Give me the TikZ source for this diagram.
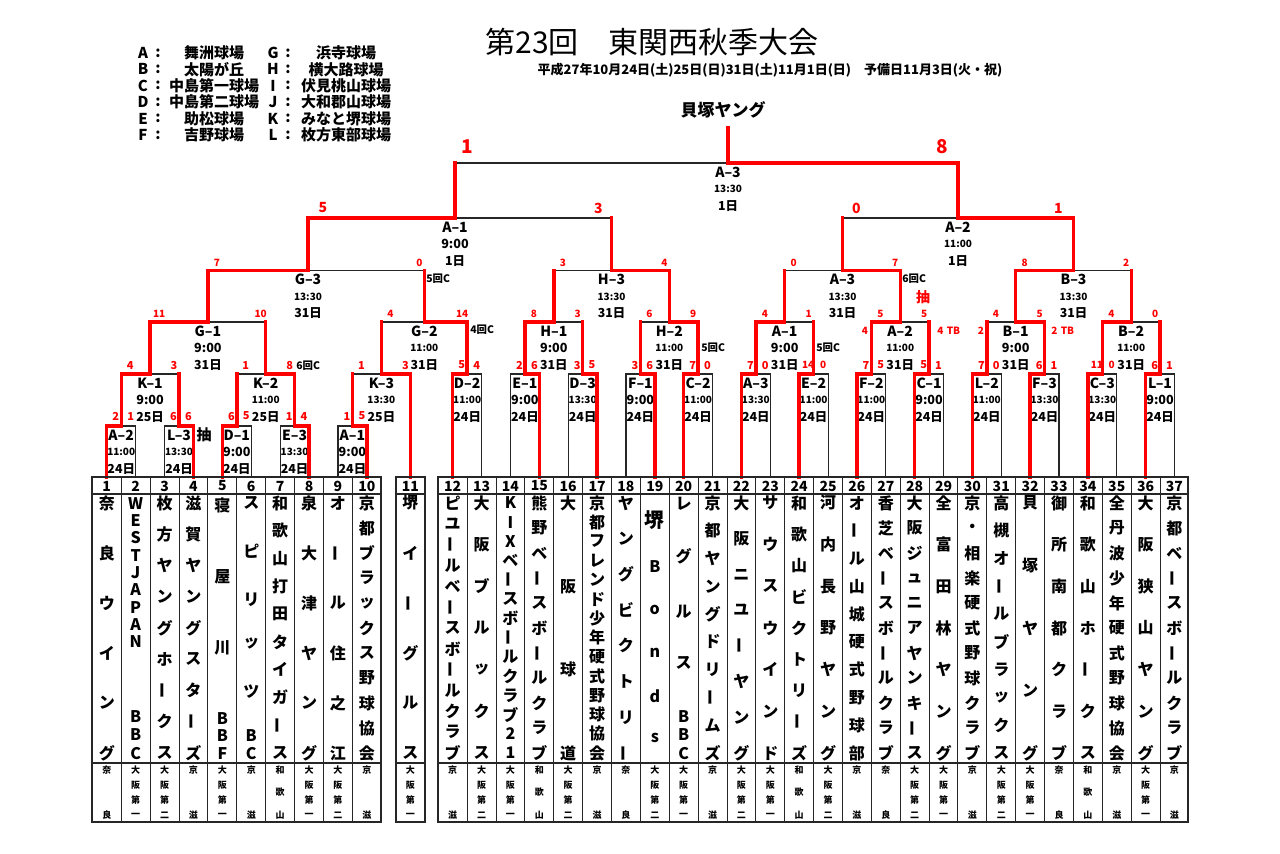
\documentclass[tikz,border=0pt]{standalone}
\usepackage{fontspec}
\setmainfont{Noto Sans CJK JP}
\usetikzlibrary{calc}
\def\LM{ー}
\newcommand\fs[1]{\fontsize{#1}{#1}\selectfont}
\tikzset{
  blk/.style={draw=black!85, line width=0.55pt},
  rd/.style={draw=red, line width=1.7pt, line cap=rect},
  tbl/.style={draw=black!85, line width=0.5pt},
  tblo/.style={draw=black!85, line width=1pt},
  tn/.style={font=\bfseries\fs{8}, inner sep=0pt},
  pf/.style={font=\bfseries\fs{4.5}, inner sep=0pt},
  num/.style={font=\bfseries\fs{7}, inner sep=0pt},
  mn/.style={font=\bfseries\fs{7}, inner sep=0pt},
  mtb/.style={font=\bfseries\fs{6.3}, inner sep=0pt},
  mts/.style={font=\bfseries\fs{5}, inner sep=0pt},
  md/.style={font=\bfseries\fs{6.2}, inner sep=0pt},
  sc/.style={text=red, font=\bfseries\fs{5.5}, inner sep=0pt},
  scs/.style={text=red, font=\bfseries\fs{5}, inner sep=0pt},
  scb/.style={text=red, font=\bfseries\fs{7}, inner sep=0pt},
  scf/.style={text=red, font=\bfseries\fs{9.5}, inner sep=0pt},
  note/.style={font=\bfseries\fs{5.2}, inner sep=0pt, anchor=west},
  leg/.style={font=\bfseries\fs{7.5}, inner sep=0pt},
}
% vertical team name, evenly distributed
\newcommand\vname[3]{\foreach \c [count=\k] in {#3} {%
  \pgfmathsetmacro\yy{26+(\k-1)*250/(#2-1)}%
  \ifx\c\LM
    \node[tn,rotate=90] (c#1-\k) at ($(t#1)+(0,\yy)$) {ー};
  \else
    \node[tn] (c#1-\k) at ($(t#1)+(0,\yy)$) {\c};
  \fi}}
% single char at absolute y
\newcommand\vat[4]{\node[tn,#4] (c#1-#2) at ($(t#1)+(0,#3-477)$) {#2};}
\newcommand\vch[4]{\node[tn] (c#1-#2) at ($(t#1)+(0,#3-477)$) {#4};}
\newcommand\pref[3]{\foreach \c [count=\k] in {#3} {%
  \pgfmathsetmacro\yy{293+(\k-1)*45/(#2-1)}%
  \node[pf] (p#1-\k) at ($(t#1)+(0,\yy)$) {\c};}}
\newcommand\PA[1]{\pref{#1}{4}{大,阪,第,一}}
\newcommand\PB[1]{\pref{#1}{4}{大,阪,第,二}}
\newcommand\PK[1]{\pref{#1}{2}{京,滋}}
\newcommand\PN[1]{\pref{#1}{2}{奈,良}}
\newcommand\PW[1]{\pref{#1}{3}{和,歌,山}}
% match: id, left, right, name, timestyle, time, day
\newcommand\mt[7]{%
  \draw[blk] (#2) |- (#1) -| (#3);
  \node[mn] (#1n) at ($(#1)+(0,9)$) {#4};
  \node[#5] (#1t) at ($(#1)+(0,26)$) {#6};
  \node[md] (#1d) at ($(#1)+(0,43)$) {#7};}
% scores: id, left, right, ls, rs, style, dy
\newcommand\sco[7]{%
  \node[#6] (#1l) at ($(#2 |- #1)+(9,#7)$) {#4};
  \node[#6] (#1r) at ($(#3 |- #1)+(-5,#7)$) {#5};}
\newcommand\win[2]{\draw[rd] (#2) |- (#1);}
\newcommand\reach[2]{\draw[rd] (#2) -- (#2 |- #1);}
\begin{document}
\begin{tikzpicture}[x=0.5pt,y=-0.5pt]
\useasboundingbox[fill=white] (0,0) rectangle (1280,853);

% ---------- header ----------
\node[font=\fs{15}, inner sep=0pt] (title) at (652,42) {第23回　東関西秋季大会};
\node[font=\bfseries\fs{6.5}, inner sep=0pt] (sub) at (770,70) {平成27年10月24日(土)25日(日)31日(土)11月1日(日)　予備日11月3日(火・祝)};
\node[font=\bfseries\fs{8.5}, inner sep=0pt] (champ) at (723,110) {貝塚ヤング};
\coordinate (ctop) at (728,128);

% ---------- legend ----------
\foreach \L/\N/\R/\M [count=\k] in {A/舞洲球場/G/浜寺球場, B/太陽が丘/H/横大路球場, C/中島第一球場/I/伏見桃山球場, D/中島第二球場/J/大和郡山球場, E/助松球場/K/みなと堺球場, F/吉野球場/L/枚方東部球場}{
  \pgfmathsetmacro\ly{53+(\k-1)*16.4}
  \node[leg] (lgl\k) at (143,\ly) {\L};
  \node[leg] (lgc\k) at (158,\ly) {:};
  \node[leg] (lgn\k) at (214,\ly) {\N};
  \node[leg] (lgr\k) at (273,\ly) {\R};
  \node[leg] (lgd\k) at (288,\ly) {:};
  \node[leg] (lgm\k) at (346,\ly) {\M};
}

% ---------- team coordinates ----------
\foreach \i in {1,...,10} {\coordinate (t\i) at ({92.3+28.9*(\i-0.5)},477);}
\coordinate (t11) at (410.4,477);
\foreach \i in {12,...,37} {\coordinate (t\i) at ({438.3+28.87*(\i-11.5)},477);}

% ---------- match coordinates ----------
\coordinate (m1) at (121.2,426);
\coordinate (m2) at (179.0,426);
\coordinate (m3) at (236.8,426);
\coordinate (m4) at (294.6,426);
\coordinate (m5) at (352.4,426);
\coordinate (k1) at (150.1,374);
\coordinate (k2) at (265.7,374);
\coordinate (k3) at (381.4,374);
\coordinate (r12) at (467.17,374);
\coordinate (r14) at (524.91,374);
\coordinate (r16) at (582.65,374);
\coordinate (r18) at (640.39,374);
\coordinate (r20) at (698.13,374);
\coordinate (r22) at (755.87,374);
\coordinate (r24) at (813.61,374);
\coordinate (r26) at (871.35,374);
\coordinate (r28) at (929.09,374);
\coordinate (r30) at (986.83,374);
\coordinate (r32) at (1044.57,374);
\coordinate (r34) at (1102.31,374);
\coordinate (r36) at (1160.05,374);
\coordinate (g1) at (207.9,322);
\coordinate (g2) at (424.3,322);
\coordinate (h1) at (553.8,322);
\coordinate (h2) at (669.3,322);
\coordinate (a1) at (784.7,322);
\coordinate (a2) at (900.2,322);
\coordinate (b1) at (1015.7,322);
\coordinate (b2) at (1131.2,322);
\coordinate (g3) at (308,270.5);
\coordinate (h3) at (611.5,270.5);
\coordinate (a3) at (842.5,270.5);
\coordinate (b3) at (1073.5,270.5);
\coordinate (s1) at (455,218);
\coordinate (s2) at (958,218);
\coordinate (f) at (728,163);

% ---------- black bracket + labels ----------
\mt{m1}{t1}{t2}{A–2}{mts}{11:00}{24日}
\mt{m2}{t3}{t4}{L–3}{mts}{13:30}{24日}
\mt{m3}{t5}{t6}{D–1}{mtb}{9:00}{24日}
\mt{m4}{t7}{t8}{E–3}{mts}{13:30}{24日}
\mt{m5}{t9}{t10}{A–1}{mtb}{9:00}{24日}
\mt{k1}{m1}{m2}{K–1}{mtb}{9:00}{25日}
\mt{k2}{m3}{m4}{K–2}{mts}{11:00}{25日}
\mt{k3}{m5}{t11}{K–3}{mts}{13:30}{25日}
\mt{r12}{t12}{t13}{D–2}{mts}{11:00}{24日}
\mt{r14}{t14}{t15}{E–1}{mtb}{9:00}{24日}
\mt{r16}{t16}{t17}{D–3}{mts}{13:30}{24日}
\mt{r18}{t18}{t19}{F–1}{mtb}{9:00}{24日}
\mt{r20}{t20}{t21}{C–2}{mts}{11:00}{24日}
\mt{r22}{t22}{t23}{A–3}{mts}{13:30}{24日}
\mt{r24}{t24}{t25}{E–2}{mts}{11:00}{24日}
\mt{r26}{t26}{t27}{F–2}{mts}{11:00}{24日}
\mt{r28}{t28}{t29}{C–1}{mtb}{9:00}{24日}
\mt{r30}{t30}{t31}{L–2}{mts}{11:00}{24日}
\mt{r32}{t32}{t33}{F–3}{mts}{13:30}{24日}
\mt{r34}{t34}{t35}{C–3}{mts}{13:30}{24日}
\mt{r36}{t36}{t37}{L–1}{mtb}{9:00}{24日}
\mt{g1}{k1}{k2}{G–1}{mtb}{9:00}{31日}
\mt{g2}{k3}{r12}{G–2}{mts}{11:00}{31日}
\mt{h1}{r14}{r16}{H–1}{mtb}{9:00}{31日}
\mt{h2}{r18}{r20}{H–2}{mts}{11:00}{31日}
\mt{a1}{r22}{r24}{A–1}{mtb}{9:00}{31日}
\mt{a2}{r26}{r28}{A–2}{mts}{11:00}{31日}
\mt{b1}{r30}{r32}{B–1}{mtb}{9:00}{31日}
\mt{b2}{r34}{r36}{B–2}{mts}{11:00}{31日}
\mt{g3}{g1}{g2}{G–3}{mts}{13:30}{31日}
\mt{h3}{h1}{h2}{H–3}{mts}{13:30}{31日}
\mt{a3}{a1}{a2}{A–3}{mts}{13:30}{31日}
\mt{b3}{b1}{b2}{B–3}{mts}{13:30}{31日}
\mt{s1}{g3}{h3}{A–1}{mtb}{9:00}{1日}
\mt{s2}{a3}{b3}{A–2}{mts}{11:00}{1日}
\mt{f}{s1}{s2}{A–3}{mts}{13:30}{1日}

% ---------- red winner paths ----------
\win{m1}{t1} \win{m2}{t4} \win{m3}{t5} \win{m4}{t8} \win{m5}{t10}
\win{k1}{m1} \reach{k1}{m2}
\win{k2}{m4} \reach{k2}{m3}
\win{k3}{t11} \reach{k3}{m5}
\win{r12}{t12} \win{r14}{t15} \win{r16}{t17} \win{r18}{t19} \win{r20}{t20}
\win{r22}{t22} \win{r24}{t24} \win{r26}{t26} \win{r28}{t28} \win{r30}{t30}
\win{r32}{t32} \win{r34}{t34} \win{r36}{t36}
\win{g1}{k1} \reach{g1}{k2}
\win{g2}{r12} \reach{g2}{k3}
\win{h1}{r14} \reach{h1}{r16}
\win{h2}{r20} \reach{h2}{r18}
\win{a1}{r22} \reach{a1}{r24}
\win{a2}{r26} \reach{a2}{r28}
\win{b1}{r32} \reach{b1}{r30}
\win{b2}{r34} \reach{b2}{r36}
\win{g3}{g1} \reach{g3}{g2}
\win{h3}{h2} \reach{h3}{h1}
\win{a3}{a2} \reach{a3}{a1}
\win{b3}{b1} \reach{b3}{b2}
\win{s1}{g3} \reach{s1}{h3}
\win{s2}{b3} \reach{s2}{a3}
\win{f}{s2} \reach{f}{s1}
\draw[rd] (f) -- (ctop);

% ---------- scores ----------
\sco{m1}{t1}{t2}{2}{1}{sc}{-10}
\sco{m2}{t3}{t4}{6}{6}{sc}{-10}
\sco{m3}{t5}{t6}{6}{5}{sc}{-10}
\sco{m4}{t7}{t8}{1}{4}{sc}{-10}
\sco{m5}{t9}{t10}{1}{5}{sc}{-10}
\sco{k1}{m1}{m2}{4}{3}{sc}{-9}
\sco{k2}{m3}{m4}{1}{8}{sc}{-9}
\sco{k3}{m5}{t11}{1}{3}{sc}{-9}
\sco{r12}{t12}{t13}{5}{4}{sc}{-9}
\sco{r14}{t14}{t15}{2}{6}{sc}{-9}
\sco{r16}{t16}{t17}{3}{5}{sc}{-9}
\sco{r18}{t18}{t19}{3}{6}{sc}{-9}
\sco{r20}{t20}{t21}{7}{0}{sc}{-9}
\sco{r22}{t22}{t23}{7}{0}{sc}{-9}
\sco{r24}{t24}{t25}{14}{0}{scs}{-9}
\sco{r26}{t26}{t27}{7}{5}{sc}{-9}
\sco{r28}{t28}{t29}{5}{1}{sc}{-9}
\sco{r30}{t30}{t31}{7}{0}{sc}{-9}
\sco{r32}{t32}{t33}{6}{1}{sc}{-9}
\sco{r34}{t34}{t35}{11}{0}{scs}{-9}
\sco{r36}{t36}{t37}{6}{1}{sc}{-9}
\sco{g1}{k1}{k2}{11}{10}{scs}{-8}
\sco{g2}{k3}{r12}{4}{14}{scs}{-8}
\sco{h1}{r14}{r16}{8}{3}{scs}{-8}
\sco{h2}{r18}{r20}{6}{9}{scs}{-8}
\sco{a1}{r22}{r24}{4}{1}{scs}{-8}
\sco{a2}{r26}{r28}{5}{5}{scs}{-8}
\sco{b1}{r30}{r32}{4}{5}{scs}{-8}
\sco{b2}{r34}{r36}{4}{0}{scs}{-8}
\sco{g3}{g1}{g2}{7}{0}{scs}{-8}
\sco{h3}{h1}{h2}{3}{4}{scs}{-8}
\sco{a3}{a1}{a2}{0}{7}{scs}{-8}
\sco{b3}{b1}{b2}{8}{2}{scs}{-8}
\node[scb] (s1l) at ($(g3 |- s1)+(15,-10)$) {5};
\node[scb] (s1r) at ($(h3 |- s1)+(-13,-10)$) {3};
\node[scb] (s2l) at ($(a3 |- s2)+(14,-10)$) {0};
\node[scb] (s2r) at ($(b3 |- s2)+(-15,-10)$) {1};
\node[scf] (fl) at ($(s1 |- f)+(12,-16)$) {1};
\node[scf] (fr) at ($(s2 |- f)+(-16,-16)$) {8};

% ---------- notes ----------
\node[font=\bfseries\fs{7.5}, inner sep=0pt] (ch1) at (204,435) {抽};
\node[note] (nk2) at (296,366) {6回C};
\node[note] (ng3) at (426,279) {5回C};
\node[note] (ng2) at (470,330) {4回C};
\node[note] (nh2) at (701,348) {5回C};
\node[note] (na1) at (816,348) {5回C};
\node[note] (na3) at (902,279) {6回C};
\node[font=\bfseries\fs{7}, text=red, inner sep=0pt] (ch2) at (923,297) {抽};
\node[scs] (tb1) at (865,331) {4};
\node[scs, anchor=west] (tb2) at (937,331) {4\,\,TB};
\node[scs] (tb3) at (981,331) {2};
\node[scs, anchor=west] (tb4) at (1051,331) {2\,\,TB};

% ---------- table ----------
\foreach \xa/\xb in {92.3/381.3, 395.7/425, 438.3/1188.3}{
  \draw[tbl, line width=0.7pt] (\xa,494) -- (\xb,494);
  \draw[tbl, line width=0.7pt] (\xa,763) -- (\xb,763);
  \draw[tblo] (\xa,477) rectangle (\xb,822);
}
\foreach \i in {1,...,9} {\draw[tbl] ({92.3+28.9*\i},477) -- ({92.3+28.9*\i},822);}
\foreach \i in {1,...,25} {\draw[tbl] ({438.3+28.87*\i},477) -- ({438.3+28.87*\i},822);}
\foreach \i in {1,...,37} {\node[num] (n\i) at ($(t\i)+(0,9)$) {\i};}

% ---------- team names ----------
\vname{1}{6}{奈,良,ウ,イ,ン,グ}
\foreach \c [count=\k] in {W,E,S,T,J,A,P,A,N} {\node[tn] (c2-\k) at ($(t2)+(0,{26.3+(\k-1)*17.3})$) {\c};}
\vch{2}{10}{716.7}{B} \vch{2}{11}{735}{B} \vch{2}{12}{753.3}{C}
\vname{3}{9}{枚,方,ヤ,ン,グ,ホ,ー,ク,ス}
\vname{4}{9}{滋,賀,ヤ,ン,グ,ス,タ,ー,ズ}
\vch{5}{1}{505}{寝} \vch{5}{2}{576.7}{屋} \vch{5}{3}{648.3}{川}
\vch{5}{4}{718.3}{B} \vch{5}{5}{735.7}{B} \vch{5}{6}{753.3}{F}
\vch{6}{1}{503.3}{ス} \vch{6}{2}{551.7}{ピ} \vch{6}{3}{600}{リ} \vch{6}{4}{643.3}{ッ}
\vch{6}{5}{691.7}{ツ} \vch{6}{6}{735.7}{B} \vch{6}{7}{753.3}{C}
\vname{7}{10}{和,歌,山,打,田,タ,イ,ガ,ー,ス}
\vname{8}{6}{泉,大,津,ヤ,ン,グ}
\vname{9}{6}{オ,ー,ル,住,之,江}
\vname{10}{11}{京,都,ブ,ラ,ッ,ク,ス,野,球,協,会}
\vname{11}{6}{堺,イ,ー,グ,ル,ス}
\vname{12}{13}{ピ,ユ,ー,ル,ベ,ー,ス,ボ,ー,ル,ク,ラ,ブ}
\vname{13}{7}{大,阪,ブ,ル,ッ,ク,ス}
\vname{14}{14}{K,I,X,ベ,ー,ス,ボ,ー,ル,ク,ラ,ブ,2,1}
\vname{15}{11}{熊,野,ベ,ー,ス,ボ,ー,ル,ク,ラ,ブ}
\vname{16}{4}{大,阪,球,道}
\vname{17}{14}{京,都,フ,レ,ン,ド,少,年,硬,式,野,球,協,会}
\vname{18}{8}{ヤ,ン,グ,ビ,ク,ト,リ,ー}
\node[tn, font=\bfseries\fs{10}] (c19-1) at ($(t19)+(0,43)$) {堺};
\vch{19}{2}{566.7}{B} \vch{19}{3}{610}{o} \vch{19}{4}{653.3}{n}
\vch{19}{5}{696.7}{d} \vch{19}{6}{738.3}{s}
\vch{20}{1}{503.3}{レ} \vch{20}{2}{556.7}{グ} \vch{20}{3}{611.7}{ル} \vch{20}{4}{663.3}{ス}
\vch{20}{5}{716.7}{B} \vch{20}{6}{735}{B} \vch{20}{7}{753.3}{C}
\vname{21}{10}{京,都,ヤ,ン,グ,ド,リ,ー,ム,ズ}
\vname{22}{8}{大,阪,ニ,ユ,ー,ヤ,ン,グ}
\vname{23}{7}{サ,ウ,ス,ウ,イ,ン,ド}
\vname{24}{9}{和,歌,山,ビ,ク,ト,リ,ー,ズ}
\vname{25}{7}{河,内,長,野,ヤ,ン,グ}
\vname{26}{10}{オ,ー,ル,山,城,硬,式,野,球,部}
\vname{27}{11}{香,芝,ベ,ー,ス,ボ,ー,ル,ク,ラ,ブ}
\vname{28}{11}{大,阪,ジ,ュ,ニ,ア,ヤ,ン,キ,ー,ス}
\vname{29}{7}{全,富,田,林,ヤ,ン,グ}
\vname{30}{11}{京,・,相,楽,硬,式,野,球,ク,ラ,ブ}
\vname{31}{10}{高,槻,オ,ー,ル,ブ,ラ,ッ,ク,ス}
\vname{32}{5}{貝,塚,ヤ,ン,グ}
\vname{33}{7}{御,所,南,都,ク,ラ,ブ}
\vname{34}{7}{和,歌,山,ホ,ー,ク,ス}
\vname{35}{11}{全,丹,波,少,年,硬,式,野,球,協,会}
\vname{36}{7}{大,阪,狭,山,ヤ,ン,グ}
\vname{37}{11}{京,都,ベ,ー,ス,ボ,ー,ル,ク,ラ,ブ}

% ---------- prefectures ----------
\PN{1} \PA{2} \PB{3} \PK{4} \PA{5} \PK{6} \PW{7} \PA{8} \PB{9} \PK{10} \PA{11}
\PK{12} \PB{13} \PA{14} \PW{15} \PB{16} \PK{17} \PN{18} \PB{19} \PA{20} \PK{21}
\PB{22} \PA{23} \PW{24} \PB{25} \PK{26} \PN{27} \PB{28} \PA{29} \PK{30} \PB{31}
\PA{32} \PN{33} \PW{34} \PK{35} \PA{36} \PK{37}
\end{tikzpicture}
\end{document}
